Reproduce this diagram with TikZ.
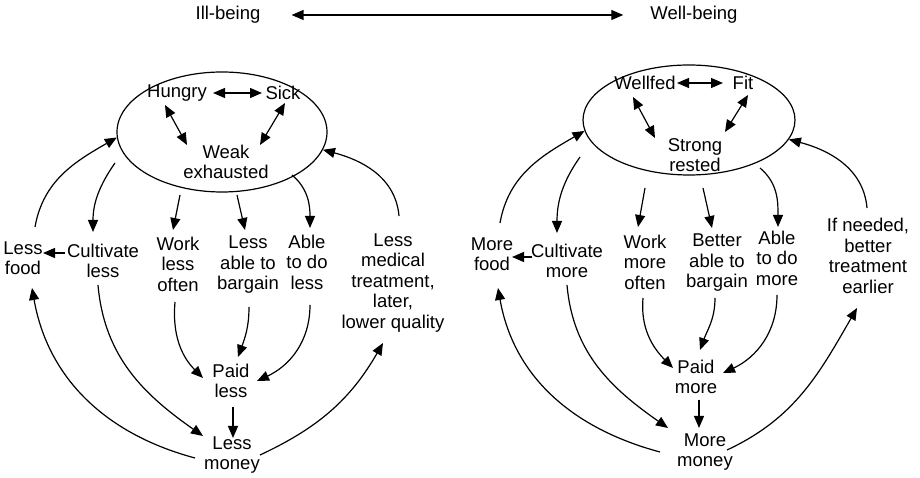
\documentclass[tikz,border=0pt]{standalone}
\usepackage{fontspec}
\setmainfont{Liberation Sans}
\usetikzlibrary{arrows.meta,shapes.geometric}

\tikzset{
  lbl/.style={align=center, inner sep=0pt, font=\fontsize{18.5}{20.5}\selectfont},
  state/.style={draw, ellipse, line width=1.2pt, minimum width=#1, inner sep=0pt},
  conn/.style={line width=1.2pt, -{Triangle[length=12pt,width=10pt]}},
  biconn/.style={line width=1.2pt, {Triangle[length=12pt,width=10pt]}-{Triangle[length=12pt,width=10pt]}}
}

\begin{document}
\begin{tikzpicture}[x=1pt,y=1pt]
\fill[white] (0,0) rectangle (920,478);
\useasboundingbox (0,0) rectangle (920,478);

% scale between the two conditions
\node[lbl] (ill)  at (228,463) {Ill-being};
\node[lbl] (well) at (694,463) {Well-being};
\draw[biconn] ([xshift=31]ill.east) -- ([xshift=-27]well.west);

% ---------- ill-being cycle ----------
\node[state=210pt, minimum height=120pt] (eL) at (222,346) {};
\node[lbl] (hungry) at (177,385) {Hungry};
\node[lbl] (sick)   at (283,385) {Sick};
\node[lbl] (weak)   at (226,316) {Weak\\exhausted};

\node[lbl] (lf)  at (23,220)  {Less\\food};
\node[lbl] (cl)  at (103,217) {Cultivate\\less};
\node[lbl] (wl)  at (178,214) {Work\\less\\often};
\node[lbl] (la)  at (248,213) {Less\\able to\\bargain};
\node[lbl] (ad)  at (307,216) {Able\\to do\\less};
\node[lbl] (lm)  at (393,195) {Less\\medical\\treatment,\\later,\\lower quality};
\node[lbl] (pl)  at (231,97)  {Paid\\less};
\node[lbl] (lmo) at (232,23)  {Less\\money};

\draw[biconn] ([shift={(36,0)}]hungry.center) -- ([shift={(-21,0)}]sick.center);
\draw[biconn] ([shift={(-12,-12)}]hungry.center) -- ([shift={(-39,17)}]weak.center);
\draw[biconn] ([shift={(2,-10)}]sick.center) -- ([shift={(34,17)}]weak.center);

\draw[conn] ([shift={(12,31)}]lf.center) to[out=80,in=210] (eL.183);
\draw[conn] ([shift={(-107,-31)}]eL.center) to[out=235,in=90] ([shift={(-10,29)}]cl.center);
\draw[conn] ([shift={(-38,8)}]cl.center) -- ([shift={(20,5)}]lf.center);
\draw[conn] ([shift={(-42,-63)}]eL.center) -- ([shift={(-5,34)}]wl.center);
\draw[conn] ([shift={(15,-63)}]eL.center) -- ([shift={(-3,35)}]la.center);
\draw[conn] ([shift={(70,-43)}]eL.center) to[out=-40,in=90] ([shift={(3,34)}]ad.center);
\draw[conn] ([shift={(6,67)}]lm.center) to[out=95,in=-15] (eL.350);

\draw[conn] ([shift={(-3,-38)}]wl.center) to[out=265,in=135] ([shift={(-28,3)}]pl.center);
\draw[conn] ([shift={(1,-42)}]la.center) to[out=270,in=70] ([shift={(7,24)}]pl.center);
\draw[conn] ([shift={(3,-43)}]ad.center) to[out=270,in=25] ([shift={(26,0)}]pl.center);
\draw[conn] ([shift={(2,-26)}]pl.center) -- ([shift={(1,17)}]lmo.center);
\draw[conn] ([shift={(-5,-24)}]cl.center) to[out=275,in=145] ([shift={(-29,19)}]lmo.center);
\draw[conn] ([shift={(-37,-3)}]lmo.center) to[out=165,in=-80] ([shift={(9,-30)}]lf.center);
\draw[conn] ([shift={(28,0)}]lmo.center) to[out=25,in=240] ([shift={(-10,-60)}]lm.center);

% ---------- well-being cycle ----------
\node[state=212pt, minimum height=110pt] (eR) at (689,358) {};
\node[lbl] (wf)  at (645,395) {Wellfed};
\node[lbl] (fit) at (743,395) {Fit};
\node[lbl] (sr)  at (695,323) {Strong\\rested};

\node[lbl] (mf)  at (492,224) {More\\food};
\node[lbl] (cm)  at (567,217) {Cultivate\\more};
\node[lbl] (wm)  at (645,216) {Work\\more\\often};
\node[lbl] (ba)  at (717,215) {Better\\able to\\bargain};
\node[lbl] (am)  at (777,220) {Able\\to do\\more};
\node[lbl] (ifn) at (868,222) {If needed,\\better\\treatment\\earlier};
\node[lbl] (pm)  at (696,101) {Paid\\more};
\node[lbl] (mmo) at (705,26)  {More\\money};

\draw[biconn] ([shift={(32,0)}]wf.center) -- ([shift={(-20,0)}]fit.center);
\draw[biconn] ([shift={(-12,-14)}]wf.center) -- ([shift={(-40,17)}]sr.center);
\draw[biconn] ([shift={(5,-12)}]fit.center) -- ([shift={(30,23)}]sr.center);

\draw[conn] ([shift={(8,31)}]mf.center) to[out=80,in=210] (eR.186);
\draw[conn] ([shift={(-109,-37)}]eR.center) to[out=235,in=90] ([shift={(-10,28)}]cm.center);
\draw[conn] ([shift={(-35,4)}]cm.center) -- ([shift={(20,-3)}]mf.center);
\draw[conn] ([shift={(-44,-68)}]eR.center) -- ([shift={(-7,35)}]wm.center);
\draw[conn] ([shift={(14,-68)}]eR.center) -- ([shift={(-5,35)}]ba.center);
\draw[conn] ([shift={(71,-48)}]eR.center) to[out=-40,in=90] ([shift={(1,31)}]am.center);
\draw[conn] ([shift={(-1,48)}]ifn.center) to[out=95,in=-15] (eR.349);

\draw[conn] ([shift={(-2,-36)}]wm.center) to[out=265,in=135] ([shift={(-23,9)}]pm.center);
\draw[conn] ([shift={(-2,-35)}]ba.center) to[out=270,in=70] ([shift={(4,27)}]pm.center);
\draw[conn] ([shift={(0,-37)}]am.center) to[out=270,in=25] ([shift={(27,4)}]pm.center);
\draw[conn] ([shift={(3,-23)}]pm.center) -- ([shift={(-6,24)}]mmo.center);
\draw[conn] ([shift={(0,-24)}]cm.center) to[out=275,in=145] ([shift={(-37,24)}]mmo.center);
\draw[conn] ([shift={(-45,0)}]mmo.center) to[out=165,in=-80] ([shift={(6,-34)}]mf.center);
\draw[conn] ([shift={(22,2)}]mmo.center) to[out=25,in=240] ([shift={(-11,-52)}]ifn.center);
\end{tikzpicture}
\end{document}
